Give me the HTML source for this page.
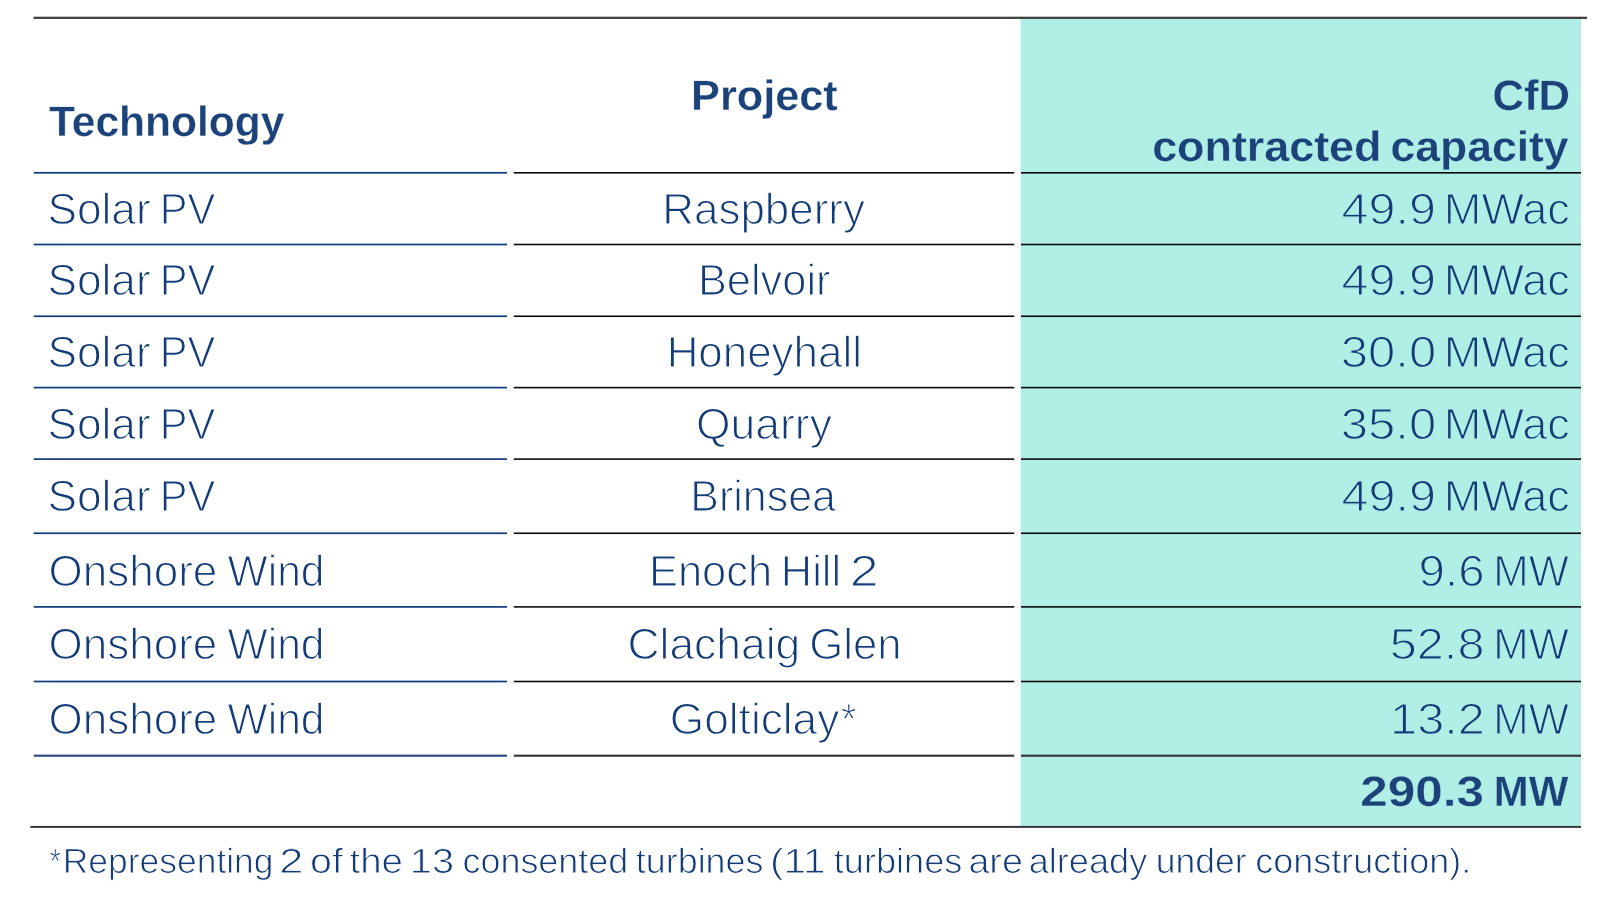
<!DOCTYPE html>
<html lang="en"><head><meta charset="utf-8"><title>CfD contracted capacity</title>
<style>
html,body{margin:0;padding:0;background:#fff;}
body{width:1600px;height:922px;position:relative;overflow:hidden;font-family:"Liberation Sans",sans-serif;}
.t{position:absolute;white-space:nowrap;line-height:1;transform-origin:0 0;font-kerning:normal;text-rendering:geometricPrecision;}
.r{font-weight:400;font-size:43.8px;color:#123b78;-webkit-text-stroke:1.2px #fff;}
.b{font-weight:700;font-size:42.5px;color:#1b4379;-webkit-text-stroke:0.3px #fff;}
.g.r,.g.b{-webkit-text-stroke-color:#b0eee6;}
.f{font-size:35.0px;-webkit-text-stroke-width:0.85px;}
svg{position:absolute;left:0;top:0;}
.txt{position:absolute;left:0;top:0;width:1600px;height:922px;filter:blur(0.45px);}
</style></head>
<body>
<svg width="1600" height="922" viewBox="0 0 1600 922"><rect x="1020.6" y="18.9" width="560.4" height="808.2" fill="#b0eee6"/></svg>
<div class="txt">
<div id="h1" class="t b" style="left:48px;top:102px;transform:translateX(0.93px) scaleX(1.0008)">Technology</div>
<div id="h2" class="t b" style="left:691px;top:76px;transform:translateX(0.08px) scaleX(1.0174)">Project</div>
<div id="h3" class="t b g" style="left:1492px;top:76px;transform:translateX(0.47px) scaleX(1.0279)">CfD</div>
<div id="h4a" class="t b g" style="left:1152px;top:127px;transform:translateX(0.16px) scaleX(1.0553)">contracted</div>
<div id="h4b" class="t b g" style="left:1390px;top:127px;transform:translateX(0.39px) scaleX(1.0479)">capacity</div>
<div id="a0a" class="t r" style="left:47px;top:188px;transform:translateX(0.41px) scaleX(1.0102)">Solar</div>
<div id="a0b" class="t r" style="left:159px;top:188px;transform:translateX(0.67px) scaleX(0.9509)">PV</div>
<div id="b0a" class="t r" style="left:662px;top:188px;transform:translateX(0.21px) scaleX(1.0036)">Raspberry</div>
<div id="c0a" class="t r g" style="left:1341px;top:188px;transform:translateX(0.62px) scaleX(1.1063)">49.9</div>
<div id="c0b" class="t r g" style="left:1443px;top:188px;transform:translateX(0.85px) scaleX(1.0294)">MWac</div>
<div id="a1a" class="t r" style="left:47px;top:259px;transform:translateX(0.41px) scaleX(1.0102)">Solar</div>
<div id="a1b" class="t r" style="left:159px;top:259px;transform:translateX(0.67px) scaleX(0.9509)">PV</div>
<div id="b1a" class="t r" style="left:697px;top:259px;transform:translateX(0.92px) scaleX(0.9900)">Belvoir</div>
<div id="c1a" class="t r g" style="left:1341px;top:259px;transform:translateX(0.62px) scaleX(1.1063)">49.9</div>
<div id="c1b" class="t r g" style="left:1443px;top:259px;transform:translateX(0.85px) scaleX(1.0294)">MWac</div>
<div id="a2a" class="t r" style="left:47px;top:331px;transform:translateX(0.41px) scaleX(1.0102)">Solar</div>
<div id="a2b" class="t r" style="left:159px;top:331px;transform:translateX(0.67px) scaleX(0.9509)">PV</div>
<div id="b2a" class="t r" style="left:666px;top:331px;transform:translateX(0.63px) scaleX(1.0027)">Honeyhall</div>
<div id="c2a" class="t r g" style="left:1340px;top:331px;transform:translateX(0.73px) scaleX(1.1201)">30.0</div>
<div id="c2b" class="t r g" style="left:1443px;top:331px;transform:translateX(0.85px) scaleX(1.0294)">MWac</div>
<div id="a3a" class="t r" style="left:47px;top:403px;transform:translateX(0.41px) scaleX(1.0102)">Solar</div>
<div id="a3b" class="t r" style="left:159px;top:403px;transform:translateX(0.67px) scaleX(0.9509)">PV</div>
<div id="b3a" class="t r" style="left:695px;top:403px;transform:translateX(0.96px) scaleX(1.0157)">Quarry</div>
<div id="c3a" class="t r g" style="left:1340px;top:403px;transform:translateX(0.73px) scaleX(1.1201)">35.0</div>
<div id="c3b" class="t r g" style="left:1443px;top:403px;transform:translateX(0.85px) scaleX(1.0294)">MWac</div>
<div id="a4a" class="t r" style="left:47px;top:475px;transform:translateX(0.41px) scaleX(1.0102)">Solar</div>
<div id="a4b" class="t r" style="left:159px;top:475px;transform:translateX(0.67px) scaleX(0.9509)">PV</div>
<div id="b4a" class="t r" style="left:690px;top:475px;transform:translateX(0.33px) scaleX(0.9802)">Brinsea</div>
<div id="c4a" class="t r g" style="left:1341px;top:475px;transform:translateX(0.62px) scaleX(1.1063)">49.9</div>
<div id="c4b" class="t r g" style="left:1443px;top:475px;transform:translateX(0.85px) scaleX(1.0294)">MWac</div>
<div id="a5a" class="t r" style="left:48px;top:550px;transform:translateX(0.41px) scaleX(1.0058)">Onshore</div>
<div id="a5b" class="t r" style="left:227px;top:550px;transform:translateX(0.55px) scaleX(0.9714)">Wind</div>
<div id="b5a" class="t r" style="left:648px;top:550px;transform:translateX(0.98px) scaleX(0.9917)">Enoch</div>
<div id="b5b" class="t r" style="left:780px;top:550px;transform:translateX(0.86px) scaleX(0.9903)">Hill</div>
<div id="b5c" class="t r" style="left:849px;top:550px;transform:translateX(0.79px) scaleX(1.1878)">2</div>
<div id="c5a" class="t r g" style="left:1418px;top:550px;transform:translateX(0.53px) scaleX(1.0859)">9.6</div>
<div id="c5b" class="t r g" style="left:1493px;top:550px;transform:translateX(0.32px) scaleX(0.9693)">MW</div>
<div id="a6a" class="t r" style="left:48px;top:623px;transform:translateX(0.41px) scaleX(1.0058)">Onshore</div>
<div id="a6b" class="t r" style="left:227px;top:623px;transform:translateX(0.55px) scaleX(0.9714)">Wind</div>
<div id="b6a" class="t r" style="left:627px;top:623px;transform:translateX(0.45px) scaleX(1.0138)">Clachaig</div>
<div id="b6b" class="t r" style="left:809px;top:623px;transform:translateX(0.15px) scaleX(0.9984)">Glen</div>
<div id="c6a" class="t r g" style="left:1389px;top:623px;transform:translateX(0.70px) scaleX(1.1117)">52.8</div>
<div id="c6b" class="t r g" style="left:1493px;top:623px;transform:translateX(0.32px) scaleX(0.9693)">MW</div>
<div id="a7a" class="t r" style="left:48px;top:698px;transform:translateX(0.41px) scaleX(1.0058)">Onshore</div>
<div id="a7b" class="t r" style="left:227px;top:698px;transform:translateX(0.55px) scaleX(0.9714)">Wind</div>
<div id="b7a" class="t r" style="left:669px;top:698px;transform:translateX(0.81px) scaleX(1.0093)">Golticlay</div>
<div id="b7b" class="t r ast" style="left:841px;top:698px;transform:translateX(0.03px) scaleX(0.9133)">*</div>
<div id="c7a" class="t r g" style="left:1390px;top:698px;transform:translateX(0.11px) scaleX(1.1117)">13.2</div>
<div id="c7b" class="t r g" style="left:1493px;top:698px;transform:translateX(0.32px) scaleX(0.9693)">MW</div>
<div id="tota" class="t b g" style="left:1360px;top:772px;transform:translateX(0.35px) scaleX(1.1613)">290.3</div>
<div id="totb" class="t b g" style="left:1493px;top:772px;transform:translateX(0.80px) scaleX(0.9870)">MW</div>
<div id="f0" class="t r f ast" style="left:49px;top:844px;transform:translateX(0.52px) scaleX(0.8358)">*</div>
<div id="f1" class="t r f" style="left:62px;top:844px;transform:translateX(0.78px) scaleX(1.0122)">Representing</div>
<div id="f2" class="t r f" style="left:279px;top:844px;transform:translateX(0.21px) scaleX(1.2381)">2</div>
<div id="f3" class="t r f" style="left:309px;top:844px;transform:translateX(0.99px) scaleX(1.1248)">of</div>
<div id="f4" class="t r f" style="left:349px;top:844px;transform:translateX(0.45px) scaleX(1.0986)">the</div>
<div id="f5" class="t r f" style="left:409px;top:844px;transform:translateX(0.79px) scaleX(1.1363)">13</div>
<div id="f6" class="t r f" style="left:462px;top:844px;transform:translateX(0.42px) scaleX(1.0273)">consented</div>
<div id="f7" class="t r f" style="left:635px;top:844px;transform:translateX(0.86px) scaleX(1.0243)">turbines</div>
<div id="f8" class="t r f" style="left:769px;top:844px;transform:translateX(0.97px) scaleX(1.1577)">(11</div>
<div id="f9" class="t r f" style="left:833px;top:844px;transform:translateX(0.79px) scaleX(1.0329)">turbines</div>
<div id="f10" class="t r f" style="left:968px;top:844px;transform:translateX(0.39px) scaleX(1.0771)">are</div>
<div id="f11" class="t r f" style="left:1028px;top:844px;transform:translateX(0.64px) scaleX(1.0341)">already</div>
<div id="f12" class="t r f" style="left:1155px;top:844px;transform:translateX(0.77px) scaleX(1.0159)">under</div>
<div id="f13" class="t r f" style="left:1255px;top:844px;transform:translateX(0.19px) scaleX(1.0284)">construction).</div>
</div>
<svg width="1600" height="922" viewBox="0 0 1600 922">
<rect x="33.50" y="16.70" width="1553.50" height="2.30" fill="#444444"/>
<rect x="33.75" y="171.95" width="473.25" height="1.70" fill="#10397a"/>
<rect x="513.75" y="172.00" width="500.50" height="1.60" fill="#0a0a0a"/>
<rect x="1021.00" y="172.00" width="560.00" height="1.60" fill="#0a0a0a"/>
<rect x="33.75" y="243.65" width="473.25" height="1.70" fill="#10397a"/>
<rect x="513.75" y="243.70" width="500.50" height="1.60" fill="#0a0a0a"/>
<rect x="1021.00" y="243.70" width="560.00" height="1.60" fill="#0a0a0a"/>
<rect x="33.75" y="315.40" width="473.25" height="1.70" fill="#10397a"/>
<rect x="513.75" y="315.45" width="500.50" height="1.60" fill="#0a0a0a"/>
<rect x="1021.00" y="315.45" width="560.00" height="1.60" fill="#0a0a0a"/>
<rect x="33.75" y="386.75" width="473.25" height="1.70" fill="#10397a"/>
<rect x="513.75" y="386.80" width="500.50" height="1.60" fill="#0a0a0a"/>
<rect x="1021.00" y="386.80" width="560.00" height="1.60" fill="#0a0a0a"/>
<rect x="33.75" y="458.25" width="473.25" height="1.70" fill="#10397a"/>
<rect x="513.75" y="458.30" width="500.50" height="1.60" fill="#0a0a0a"/>
<rect x="1021.00" y="458.30" width="560.00" height="1.60" fill="#0a0a0a"/>
<rect x="33.75" y="532.40" width="473.25" height="1.70" fill="#10397a"/>
<rect x="513.75" y="532.45" width="500.50" height="1.60" fill="#0a0a0a"/>
<rect x="1021.00" y="532.45" width="560.00" height="1.60" fill="#0a0a0a"/>
<rect x="33.75" y="606.05" width="473.25" height="1.70" fill="#10397a"/>
<rect x="513.75" y="606.10" width="500.50" height="1.60" fill="#0a0a0a"/>
<rect x="1021.00" y="606.10" width="560.00" height="1.60" fill="#0a0a0a"/>
<rect x="33.75" y="680.65" width="473.25" height="1.70" fill="#10397a"/>
<rect x="513.75" y="680.70" width="500.50" height="1.60" fill="#0a0a0a"/>
<rect x="1021.00" y="680.70" width="560.00" height="1.60" fill="#0a0a0a"/>
<rect x="33.75" y="754.65" width="473.25" height="2.10" fill="#2c4480"/>
<rect x="513.75" y="754.65" width="500.50" height="2.10" fill="#333333"/>
<rect x="1021.00" y="754.65" width="560.00" height="2.10" fill="#333333"/>
<rect x="30.30" y="825.90" width="1550.70" height="2.00" fill="#3a3a3a"/>
</svg>
</body></html>
